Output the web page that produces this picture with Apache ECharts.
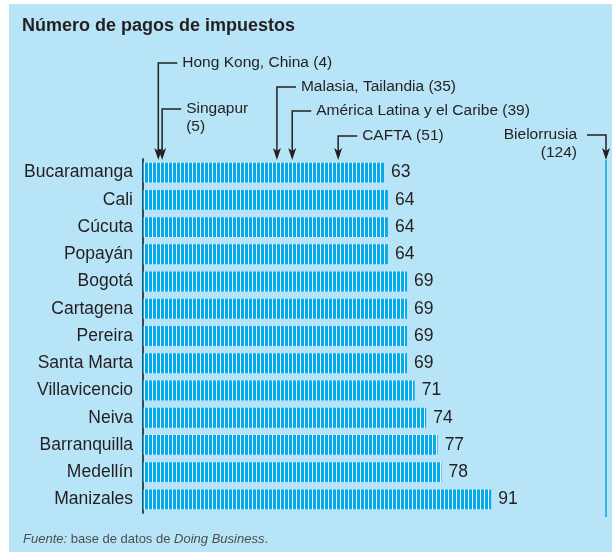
<!DOCTYPE html>
<html>
<head>
<meta charset="utf-8">
<script src="https://cdn.jsdelivr.net/npm/echarts@6/dist/echarts.min.js"></script>
<style>
  html, body { margin: 0; padding: 0; background: #fff; }
  #chart { width: 612px; height: 552px; }
</style>
</head>
<body>
<div id="chart"></div>
<script>
// ciudades y número de pagos
const cities = ['Bucaramanga', 'Cali', 'Cúcuta', 'Popayán', 'Bogotá', 'Cartagena', 'Pereira',
  'Santa Marta', 'Villavicencio', 'Neiva', 'Barranquilla', 'Medellín', 'Manizales'];
const payments = [63, 64, 64, 64, 69, 69, 69, 69, 71, 74, 77, 78, 91];

// referencias internacionales (flechas)
const benchLabels = [['Hong Kong, China (4)'], ['Singapur', '(5)'], ['Malasia, Tailandia (35)'],
  ['América Latina y el Caribe (39)'], ['CAFTA (51)'], ['Bielorrusia', '(124)']];
const benchValues = [4, 5, 35, 39, 51, 124];

// colocación de las llamadas: altura de la línea y lado del texto
const calloutY = [63, 109, 87, 111, 136, 135];
const calloutSide = ['r', 'r', 'r', 'r', 'r', 'l'];

const FONT = '"Liberation Sans", Arial, sans-serif';
const INK = '#231f20';
const BLUE = '#00aeef';
const GRID_TOP = 159, GRID_H = 354;
const X_MAX = 121; // el eje se corta antes de Bielorrusia

// rayado blanco de las barras
function stripes() {
  const c = document.createElement('canvas');
  c.width = 8; c.height = 4;
  const ctx = c.getContext('2d');
  ctx.fillStyle = BLUE;
  ctx.fillRect(0, 0, 8, 4);
  ctx.fillStyle = '#ffffff';
  ctx.fillRect(0, 0, 1, 4);
  ctx.fillRect(4, 0, 1, 4);
  return c;
}

const chart = echarts.init(document.getElementById('chart'));

chart.setOption({
  animation: false,
  grid: { left: 143, right: 6, top: GRID_TOP, height: GRID_H },
  xAxis: {
    type: 'value', min: 0, max: X_MAX, show: false
  },
  yAxis: {
    type: 'category',
    data: cities,
    inverse: true,
    axisTick: { show: false },
    axisLine: { show: true, lineStyle: { color: '#3f4850', width: 2 } },
    axisLabel: { color: INK, fontSize: 17.5, fontFamily: FONT, margin: 10 }
  },
  series: [{
    type: 'bar',
    data: payments,
    barCategoryGap: '27%',
    itemStyle: { color: { image: stripes(), repeat: 'repeat' } },
    label: {
      show: true, position: 'right', distance: 7,
      color: INK, fontSize: 17.5, fontFamily: FONT
    }
  }]
});

const graphics = [
  { type: 'rect', z: -10, silent: true, shape: { x: 9, y: 4, width: 603, height: 548 }, style: { fill: '#b8e4f8' } },
  { type: 'text', x: 22, y: 17, style: { text: 'Número de pagos de impuestos', fill: INK, font: 'bold 18px ' + FONT } },
  {
    type: 'text', x: 23, y: 539,
    style: {
      text: '{i|Fuente:} base de datos de {i|Doing Business}.',
      fill: '#4d4d4f', font: '13px ' + FONT, verticalAlign: 'middle',
      rich: { i: { fontStyle: 'italic', fill: '#4d4d4f', font: 'italic 13px ' + FONT } }
    }
  }
];

const tipY = GRID_TOP + 1;
benchValues.forEach(function (v, i) {
  const x = chart.convertToPixel({ xAxisIndex: 0 }, Math.min(v, X_MAX));
  const y = calloutY[i];
  const right = calloutSide[i] === 'r';
  const x2 = right ? x + 19 : x - 19;
  graphics.push({
    type: 'polyline', shape: { points: [[x2, y], [x, y], [x, tipY - 9]] },
    style: { stroke: INK, lineWidth: 1.5, fill: null }
  });
  graphics.push({
    type: 'polygon',
    shape: { points: [[x - 4, tipY - 12], [x, tipY - 9], [x + 4, tipY - 12], [x, tipY]] },
    style: { fill: INK }
  });
  benchLabels[i].forEach(function (t, k) {
    graphics.push({
      type: 'text', x: right ? x + 24 : x - 29, y: y + k * 18,
      style: {
        text: t, fill: INK, font: '15.5px ' + FONT,
        align: right ? 'left' : 'right', verticalAlign: 'middle'
      }
    });
  });
  if (v > X_MAX) {
    // barra fuera de escala: sólo se marca el borde
    graphics.push({
      type: 'line', shape: { x1: x, y1: tipY, x2: x, y2: GRID_TOP + GRID_H + 4 },
      style: { stroke: '#33b4ec', lineWidth: 2 }
    });
  }
});

chart.setOption({ graphic: graphics });
</script>
</body>
</html>
